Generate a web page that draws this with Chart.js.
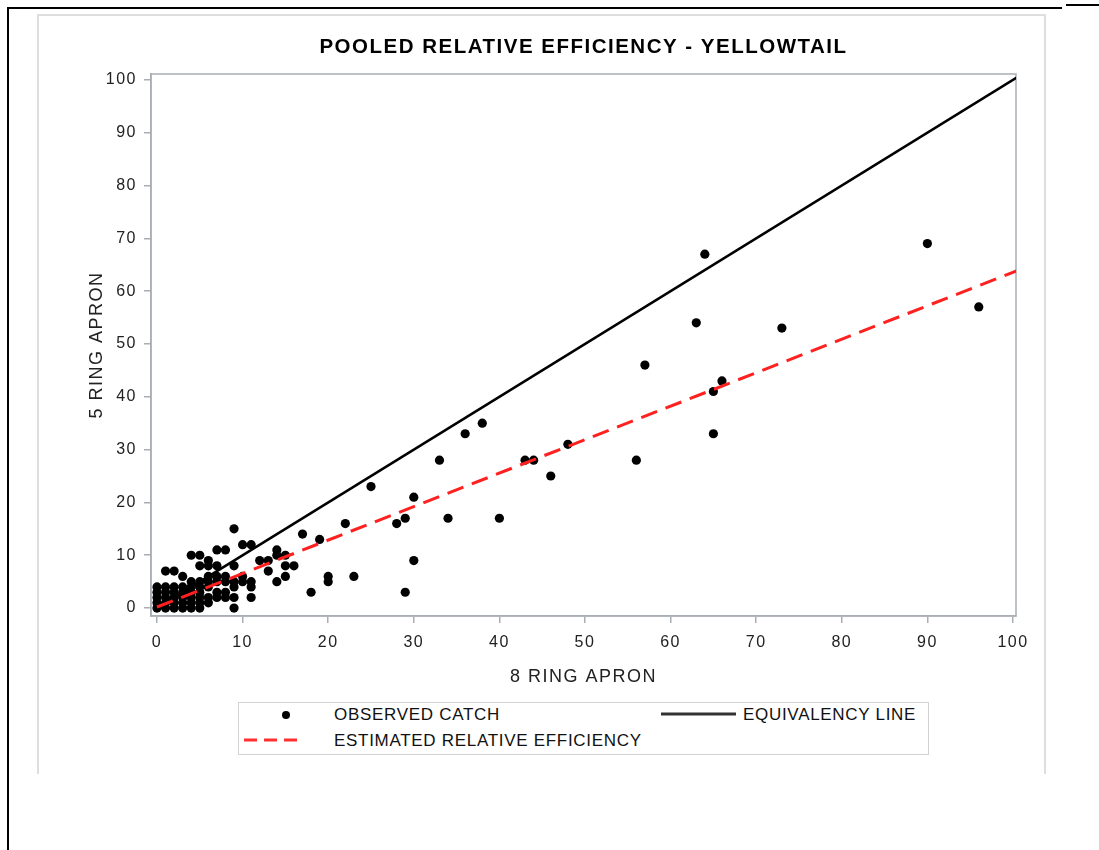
<!DOCTYPE html>
<html>
<head>
<meta charset="utf-8">
<script src="https://cdn.jsdelivr.net/npm/chart.js@4.4.1/dist/chart.umd.min.js"></script>
<style>
  body { margin: 0; background: #fff; width: 1099px; height: 850px; position: relative; overflow: hidden;
         font-family: "Liberation Sans", Arial, sans-serif; }
  .rule { position: absolute; background: #000; }
  #panel { position: absolute; left: 37px; top: 14px; width: 1005px; height: 758px;
           border: 2px solid #dedede; border-bottom: none; }
  #chart-box { position: absolute; left: 0; top: 0; width: 1099px; height: 700px; }
  #legend { position: absolute; left: 238px; top: 702px; width: 689px; height: 51px; border: 1px solid #d2d2d2; }
  #legend .txt { position: absolute; font-size: 17px; letter-spacing: 0.7px; color: #111; line-height: 18px; white-space: nowrap; }
  #legend .dot { position: absolute; width: 8px; height: 8px; border-radius: 50%; background: #000; }
  #legend svg { position: absolute; }
</style>
</head>
<body>
<div class="rule" style="left:7px;top:7px;width:2px;height:843px"></div>
<div class="rule" style="left:7px;top:7px;width:1055px;height:2px"></div>
<div class="rule" style="left:1066px;top:4px;width:33px;height:2px"></div>
<div id="panel"></div>
<div id="chart-box"><canvas id="scatter-chart"></canvas></div>
<div id="legend">
  <div class="dot" style="left:43px;top:8px"></div>
  <div class="txt" style="left:95px;top:3px">OBSERVED CATCH</div>
  <svg style="left:420px;top:8px" width="80" height="6"><line x1="2" y1="3" x2="77" y2="3" stroke="#333" stroke-width="3"/></svg>
  <div class="txt" style="left:504px;top:3px">EQUIVALENCY LINE</div>
  <svg style="left:4px;top:34px" width="60" height="6"><line x1="1" y1="3" x2="58" y2="3" stroke="#ff3030" stroke-width="3" stroke-dasharray="13,7"/></svg>
  <div class="txt" style="left:95px;top:29px">ESTIMATED RELATIVE EFFICIENCY</div>
</div>
<script>
// observed catch: 8 ring apron (x) vs 5 ring apron (y)
const catch8 = [
  0, 0, 0, 0, 0,
  1, 1, 1, 1, 1, 1,
  2, 2, 2, 2, 2, 2,
  3, 3, 3, 3, 3, 3,
  4, 4, 4, 4, 4, 4, 4,
  5, 5, 5, 5, 5, 5, 5, 5,
  6, 6, 6, 6, 6, 6, 6,
  7, 7, 7, 7, 7, 7,
  8, 8, 8, 8, 8,
  9, 9, 9, 9, 9, 9,
  10, 10, 10,
  11, 11, 11, 11,
  12, 13, 13, 14, 14, 14, 15, 15, 15, 16, 17, 18, 19, 20, 20,
  22, 23, 25, 28, 29, 29, 30, 30,
  33, 34, 36, 38, 40, 43, 44, 46, 48,
  56, 57, 63, 64, 65, 65, 66, 73, 90, 96
];
const catch5 = [
  0, 1, 2, 3, 4,
  0, 1, 2, 3, 4, 7,
  0, 1, 2, 3, 4, 7,
  0, 1, 2, 3, 4, 6,
  0, 1, 2, 3, 4, 5, 10,
  0, 1, 2, 3, 4, 5, 8, 10,
  1, 2, 4, 5, 6, 8, 9,
  2, 3, 5, 6, 8, 11,
  2, 3, 5, 6, 11,
  0, 2, 4, 5, 8, 15,
  5, 6, 12,
  2, 4, 5, 12,
  9, 7, 9, 5, 10, 11, 6, 8, 10, 8, 14, 3, 13, 5, 6,
  16, 6, 23, 16, 17, 3, 21, 9,
  28, 17, 33, 35, 17, 28, 28, 25, 31,
  28, 46, 54, 67, 41, 33, 43, 53, 69, 57
];

// reference lines
const equivX = [0, 101];
const equivY = [0, 101];
const estX = [0, 101];
const estY = [0.2, 64.2];

const xTicks = [0, 10, 20, 30, 40, 50, 60, 70, 80, 90, 100];
const yTicks = [0, 10, 20, 30, 40, 50, 60, 70, 80, 90, 100];

const toPoints = (xs, ys) => xs.map((x, i) => ({ x: x, y: ys[i] }));

const axisGray = '#a9aeb4';
const textColor = '#222';

const spacing_plugin = {
    id: 'spacing',
    beforeDraw(chart) {
        chart.ctx.letterSpacing = '1.5px';
    }
};

const frame_plugin = {
    id: 'frame',
    beforeDatasetsDraw(chart) {
        const { ctx, chartArea: a } = chart;
        ctx.save();
        ctx.strokeStyle = axisGray;
        ctx.lineWidth = 1.5;
        ctx.strokeRect(a.left, a.top, a.right - a.left, a.bottom - a.top);
        ctx.restore();
    }
};

const chart = new Chart(document.getElementById('scatter-chart'), {
    type: 'scatter',
    data: {
        datasets: [{
            label: 'ESTIMATED RELATIVE EFFICIENCY',
            data: toPoints(estX, estY),
            showLine: true,
            borderColor: '#ff2020',
            borderWidth: 3,
            borderDash: [17, 9],
            pointRadius: 0
        }, {
            label: 'EQUIVALENCY LINE',
            data: toPoints(equivX, equivY),
            showLine: true,
            borderColor: '#000',
            borderWidth: 2.5,
            pointRadius: 0
        }, {
            label: 'OBSERVED CATCH',
            data: toPoints(catch8, catch5),
            backgroundColor: '#000',
            borderWidth: 0,
            pointRadius: 4.6
        }]
    },
    options: {
        responsive: true,
        maintainAspectRatio: false,
        animation: false,
        layout: {
            padding: { left: 70, right: 83, top: 0, bottom: 12 }
        },
        plugins: {
            legend: { display: false },
            tooltip: { enabled: false },
            title: {
                display: true,
                fullSize: false,
                text: 'POOLED RELATIVE EFFICIENCY - YELLOWTAIL',
                color: '#000',
                font: { family: '"Liberation Sans", Arial, sans-serif', size: 20.5, weight: 'bold' },
                padding: { top: 34.7, bottom: 14.7 }
            }
        },
        scales: {
            x: {
                type: 'linear',
                min: -0.7,
                max: 100.35,
                afterBuildTicks: scale => { scale.ticks = xTicks.map(v => ({ value: v })); },
                afterFit: scale => { scale.height = 72; },
                ticks: {
                    color: textColor,
                    padding: 10,
                    font: { family: '"Liberation Sans", Arial, sans-serif', size: 16 }
                },
                grid: { drawOnChartArea: false, tickLength: 7, color: axisGray, lineWidth: 1.5 },
                border: { color: axisGray, width: 1.5 },
                title: {
                    display: true,
                    text: '8 RING APRON',
                    color: textColor,
                    font: { family: '"Liberation Sans", Arial, sans-serif', size: 18 },
                    padding: { top: 0, bottom: 0 }
                }
            },
            y: {
                type: 'linear',
                min: -1.5,
                max: 101.1,
                afterBuildTicks: scale => { scale.ticks = yTicks.map(v => ({ value: v })); },
                afterFit: scale => { scale.width = 81; },
                ticks: {
                    color: textColor,
                    padding: 7,
                    font: { family: '"Liberation Sans", Arial, sans-serif', size: 16 }
                },
                grid: { drawOnChartArea: false, tickLength: 7, color: axisGray, lineWidth: 1.5 },
                border: { color: axisGray, width: 1.5 },
                title: {
                    display: true,
                    text: '5 RING APRON',
                    color: textColor,
                    font: { family: '"Liberation Sans", Arial, sans-serif', size: 18 },
                    padding: { top: 16, bottom: 0 }
                }
            }
        }
    },
    plugins: [spacing_plugin, frame_plugin]
});
</script>
</body>
</html>
